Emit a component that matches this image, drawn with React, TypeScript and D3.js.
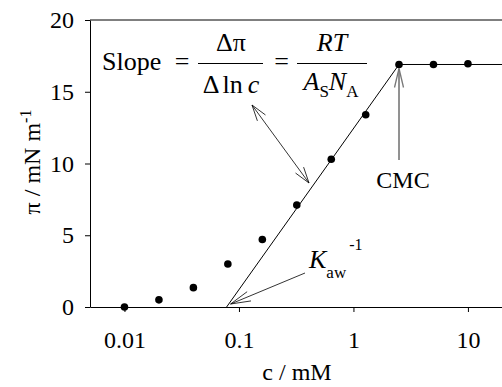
import { useEffect, useRef } from 'react';
import * as d3 from 'd3';

// measured surface pressure vs. concentration
const concentration = [0.01, 0.02, 0.04, 0.08, 0.16, 0.32, 0.64, 1.28, 2.5, 5, 10];
const pressure = [0, 0.5, 1.35, 3.0, 4.7, 7.1, 10.3, 13.4, 16.9, 16.9, 16.95];

// fitted line: zero crossing (Kaw^-1), CMC, plateau
const fitConcentration = [0.078, 2.5, 20];
const fitPressure = [0, 16.9, 16.9];

const xTicks = [0.01, 0.1, 1, 10];
const xTickLabels = ['0.01', '0.1', '1', '10'];
const yTicks = [0, 5, 10, 15, 20];

const FONT = '"Liberation Serif", "Times New Roman", serif';

export default function App() {
    const svgRef = useRef<SVGSVGElement>(null);

    useEffect(() => {
        if (!svgRef.current) return;
        const svg = d3.select(svgRef.current);
        svg.selectAll('*').remove();

        const x = d3.scaleLog().domain([0.005, 20]).range([90, 502.4]);
        const y = d3.scaleLinear().domain([0, 20]).range([307, 20]);

        // open arrowhead helper
        const arrowHead = (g: any, tipX: number, tipY: number, fromX: number, fromY: number, len: number, half: number, color: string, width: number) => {
            const a = Math.atan2(fromY - tipY, fromX - tipX);
            [-1, 1].forEach(s => {
                const ang = a + s * Math.atan(half / len);
                const l = Math.hypot(len, half);
                g.append('line')
                    .attr('x1', tipX).attr('y1', tipY)
                    .attr('x2', tipX + Math.cos(ang) * l)
                    .attr('y2', tipY + Math.sin(ang) * l)
                    .attr('stroke', color).attr('stroke-width', width);
            });
        };

        // Axes
        const xAxis = svg.append('g')
            .attr('transform', `translate(0,${y(0)})`)
            .call(d3.axisBottom(x).tickValues(xTicks)
                .tickFormat((d, i) => xTickLabels[i])
                .tickSize(5).tickSizeOuter(0).tickPadding(19));
        const yAxis = svg.append('g')
            .attr('transform', `translate(${x.range()[0]},0)`)
            .call(d3.axisLeft(y).tickValues(yTicks)
                .tickSize(5).tickSizeOuter(0).tickPadding(11));
        [xAxis, yAxis].forEach(a => {
            a.selectAll('path, line').attr('stroke', '#000').attr('stroke-width', 1);
            a.selectAll('text')
                .attr('font-family', FONT)
                .attr('font-size', 24)
                .attr('fill', '#000');
        });

        // top frame
        svg.append('line')
            .attr('x1', x.range()[0]).attr('x2', x.range()[1])
            .attr('y1', y(20)).attr('y2', y(20))
            .attr('stroke', '#000').attr('stroke-width', 1);

        // Fit line
        const line = d3.line<number>()
            .x((d, i) => x(fitConcentration[i]))
            .y(d => y(d));
        svg.append('path')
            .attr('d', line(fitPressure)!)
            .attr('fill', 'none')
            .attr('stroke', '#000')
            .attr('stroke-width', 1);

        // Points
        svg.append('g')
            .selectAll('circle')
            .data(concentration)
            .join('circle')
            .attr('cx', d => x(d))
            .attr('cy', (d, i) => y(pressure[i]))
            .attr('r', 3.8)
            .attr('fill', '#000');

        // Axis titles
        svg.append('text')
            .attr('x', 297).attr('y', 380)
            .attr('text-anchor', 'middle')
            .attr('font-family', FONT).attr('font-size', 24)
            .text('c / mM');

        const yt = svg.append('text')
            .attr('transform', 'translate(40,162) rotate(-90)')
            .attr('text-anchor', 'middle')
            .attr('font-family', FONT).attr('font-size', 24);
        yt.append('tspan').text('π / mN m');
        yt.append('tspan').attr('dy', -9).attr('font-size', 16).text('-1');

        // Slope equation
        const eq = svg.append('g')
            .attr('font-family', FONT).attr('font-size', 26).attr('fill', '#000');
        eq.append('text').attr('x', 102).attr('y', 70).text('Slope');
        eq.append('text').attr('x', 182).attr('y', 70).attr('text-anchor', 'middle').text('=');
        eq.append('line').attr('x1', 198).attr('x2', 263).attr('y1', 63.5).attr('y2', 63.5)
            .attr('stroke', '#000').attr('stroke-width', 1.2);
        eq.append('text').attr('x', 231).attr('y', 51).attr('text-anchor', 'middle').text('Δπ');
        const den1 = eq.append('text').attr('x', 231).attr('y', 93).attr('text-anchor', 'middle');
        den1.append('tspan').text('Δ');
        den1.append('tspan').attr('dx', 3).text('ln');
        den1.append('tspan').attr('dx', 5).attr('font-style', 'italic').text('c');
        eq.append('text').attr('x', 281.5).attr('y', 70).attr('text-anchor', 'middle').text('=');
        eq.append('line').attr('x1', 297).attr('x2', 367).attr('y1', 63.5).attr('y2', 63.5)
            .attr('stroke', '#000').attr('stroke-width', 1.2);
        eq.append('text').attr('x', 332).attr('y', 51).attr('text-anchor', 'middle')
            .attr('font-style', 'italic').text('RT');
        const den2 = eq.append('text').attr('x', 331).attr('y', 90).attr('text-anchor', 'middle');
        den2.append('tspan').attr('font-style', 'italic').text('A');
        den2.append('tspan').attr('dy', 7).attr('font-size', 17).text('S');
        den2.append('tspan').attr('dy', -7).attr('font-style', 'italic').text('N');
        den2.append('tspan').attr('dy', 7).attr('font-size', 17).text('A');

        // double arrow from equation to slope line
        const ann = svg.append('g');
        const a1 = [252, 105], a2 = [309, 183];
        ann.append('line').attr('x1', a1[0]).attr('y1', a1[1]).attr('x2', a2[0]).attr('y2', a2[1])
            .attr('stroke', '#000').attr('stroke-width', 0.8);
        arrowHead(ann, a1[0], a1[1], a2[0], a2[1], 16, 5, '#000', 0.8);
        arrowHead(ann, a2[0], a2[1], a1[0], a1[1], 16, 5, '#000', 0.8);

        // CMC arrow
        const cmcX = x(fitConcentration[1]);
        ann.append('line').attr('x1', cmcX).attr('y1', y(fitPressure[1]) + 4).attr('x2', cmcX).attr('y2', 160)
            .attr('stroke', '#777').attr('stroke-width', 1.6);
        arrowHead(ann, cmcX, y(fitPressure[1]) + 4, cmcX, 160, 19, 4.5, '#777', 1.3);
        svg.append('text')
            .attr('x', cmcX + 4).attr('y', 188)
            .attr('text-anchor', 'middle')
            .attr('font-family', FONT).attr('font-size', 24)
            .text('CMC');

        // Kaw^-1 arrow
        const kTip = [x(fitConcentration[0]) + 4, y(0) - 3];
        ann.append('line').attr('x1', 305).attr('y1', 273).attr('x2', kTip[0]).attr('y2', kTip[1])
            .attr('stroke', '#000').attr('stroke-width', 0.8);
        arrowHead(ann, kTip[0], kTip[1], 305, 273, 20, 5, '#000', 0.8);
        const kt = svg.append('text')
            .attr('x', 309).attr('y', 268)
            .attr('font-family', FONT).attr('font-size', 26);
        kt.append('tspan').attr('font-style', 'italic').text('K');
        kt.append('tspan').attr('dy', 10).attr('font-size', 17).text('aw');
        kt.append('tspan').attr('dx', 3).attr('dy', -28).attr('font-size', 16).text('-1');
    }, []);

    return (
        <div style={{ position: 'absolute', left: 0, top: 0 }}>
            <svg ref={svgRef} width="502" height="387" style={{ display: 'block', background: '#fff' }} />
        </div>
    );
}
